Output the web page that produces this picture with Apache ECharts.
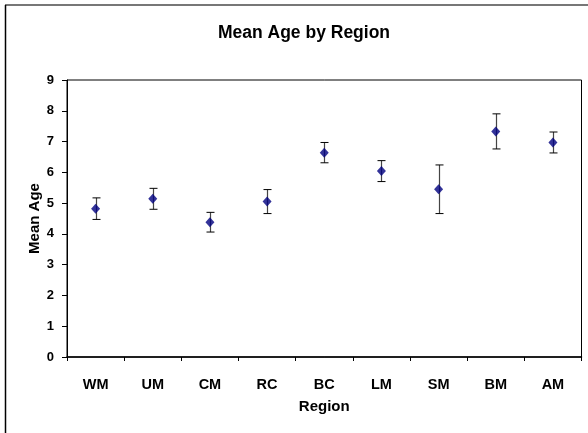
<!DOCTYPE html>
<html>
<head>
<meta charset="utf-8">
<script src="https://cdn.jsdelivr.net/npm/echarts@6/dist/echarts.min.js"></script>
<style>
  html, body { margin: 0; padding: 0; background: #fff; }
  #chart { width: 588px; height: 433px; }
</style>
</head>
<body>
<div id="chart"></div>
<script>
// Regions along the x axis
var regions = ['WM', 'UM', 'CM', 'RC', 'BC', 'LM', 'SM', 'BM', 'AM'];
// Mean age per region
var meanAge = [4.82, 5.14, 4.38, 5.05, 6.64, 6.04, 5.45, 7.33, 6.97];
// Half-length of each error bar
var errHalf = [0.35, 0.34, 0.32, 0.39, 0.33, 0.34, 0.79, 0.57, 0.34];
// Y axis ticks
var yMin = 0, yMax = 9, yStep = 1;

var FONT = '"Liberation Sans", Arial, sans-serif';

var points = meanAge.map(function (v, i) { return [i, v]; });
var bars = meanAge.map(function (v, i) { return [i, v - errHalf[i], v + errHalf[i]]; });

var chart = echarts.init(document.getElementById('chart'), null, { renderer: 'canvas' });

chart.setOption({
  animation: false,
  backgroundColor: '#ffffff',
  title: {
    text: 'Mean Age by Region',
    left: 299,
    top: 19,
    textAlign: 'center',
    textStyle: { fontFamily: FONT, fontSize: 17.5, fontWeight: 'bold', color: '#000' }
  },
  graphic: [
    { type: 'line', shape: { x1: 5, y1: 5, x2: 600, y2: 5 }, style: { stroke: '#777', lineWidth: 2 }, z: 100 },
    { type: 'line', shape: { x1: 5.5, y1: 5, x2: 5.5, y2: 440 }, style: { stroke: '#000', lineWidth: 1.5 }, z: 100 }
  ],
  grid: {
    left: 67, right: 6.5, top: 80, bottom: 76,
    show: true, borderColor: '#000', borderWidth: 1,
    outerBoundsMode: 'none'
  },
  xAxis: {
    type: 'category',
    data: regions,
    boundaryGap: true,
    name: 'Region',
    nameLocation: 'middle',
    nameGap: 42,
    nameMoveOverlap: false,
    nameTextStyle: { fontFamily: FONT, fontSize: 15, fontWeight: 'bold', color: '#000' },
    axisLine: { lineStyle: { color: '#000', width: 1.5 } },
    axisTick: { show: true, length: 4, alignWithLabel: false, lineStyle: { color: '#000' } },
    axisLabel: { fontFamily: FONT, fontSize: 14.5, fontWeight: 'bold', color: '#000', margin: 20 },
    splitLine: { show: false }
  },
  yAxis: {
    type: 'value',
    min: yMin, max: yMax, interval: yStep,
    name: 'Mean Age',
    nameLocation: 'middle',
    nameGap: 25,
    nameMoveOverlap: false,
    nameRotate: 90,
    nameTextStyle: { fontFamily: FONT, fontSize: 15, fontWeight: 'bold', color: '#000' },
    axisLine: { show: true, lineStyle: { color: '#000', width: 1 } },
    axisTick: { show: true, length: 5, inside: false, lineStyle: { color: '#000' } },
    axisLabel: { fontFamily: FONT, fontSize: 13, fontWeight: 'bold', color: '#000', margin: 13 },
    splitLine: { show: false }
  },
  series: [
    {
      type: 'custom',
      name: 'error',
      data: bars,
      encode: { x: 0, y: [1, 2] },
      z: 2,
      renderItem: function (params, api) {
        var lo = api.coord([api.value(0), api.value(1)]);
        var hi = api.coord([api.value(0), api.value(2)]);
        var x = Math.round(lo[0]) + 0.5;
        var cap = 4;
        var style = { stroke: '#000', lineWidth: 1 };
        return {
          type: 'group',
          children: [
            { type: 'line', shape: { x1: x, y1: hi[1], x2: x, y2: lo[1] }, style: { stroke: '#444', lineWidth: 1.2 } },
            { type: 'line', shape: { x1: x - cap, y1: hi[1], x2: x + cap, y2: hi[1] }, style: style },
            { type: 'line', shape: { x1: x - cap, y1: lo[1], x2: x + cap, y2: lo[1] }, style: style }
          ]
        };
      }
    },
    {
      type: 'scatter',
      name: 'Mean Age',
      data: points,
      symbol: 'diamond',
      symbolSize: [9, 10],
      itemStyle: { color: '#000080' },
      z: 3
    }
  ]
});
</script>
</body>
</html>
